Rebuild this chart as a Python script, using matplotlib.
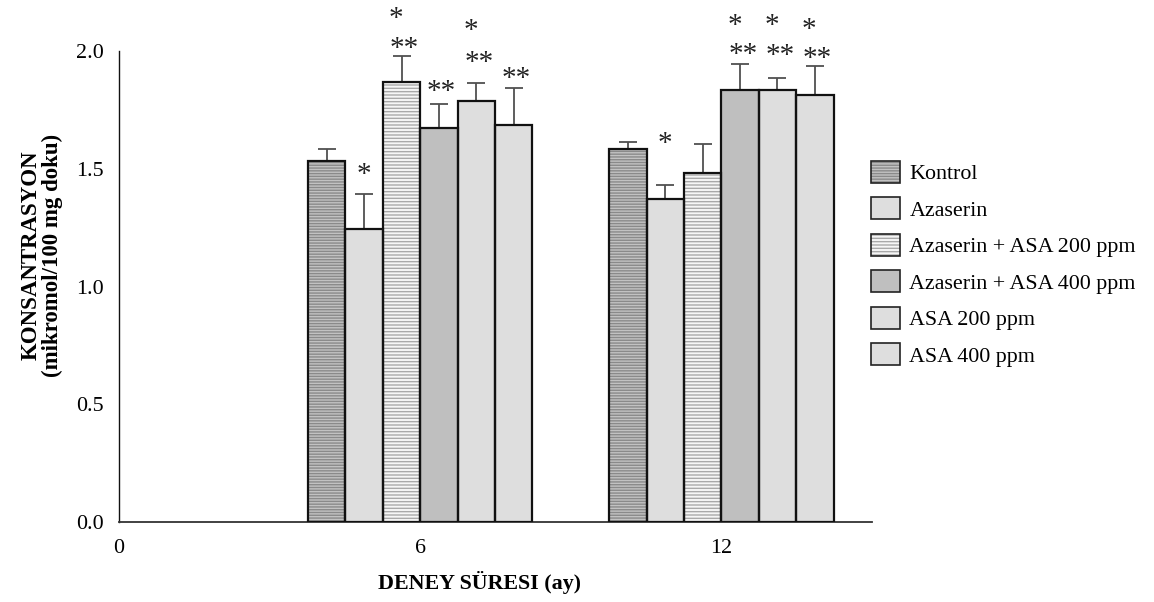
import matplotlib
matplotlib.use("Agg")
import matplotlib.pyplot as plt
from matplotlib.patches import Patch
import numpy as np

plt.rcParams['font.family'] = ['Liberation Serif', 'DejaVu Serif']
plt.rcParams['hatch.linewidth'] = 1.0

# ---- data ----
times = [6, 12]
groups = ["Kontrol", "Azaserin", "Azaserin + ASA 200 ppm",
          "Azaserin + ASA 400 ppm", "ASA 200 ppm", "ASA 400 ppm"]
means_6 = [1.534, 1.243, 1.867, 1.674, 1.786, 1.684]
means_12 = [1.583, 1.373, 1.483, 1.836, 1.836, 1.815]
errs_6 = [0.05, 0.15, 0.11, 0.10, 0.08, 0.16]
errs_12 = [0.03, 0.06, 0.12, 0.11, 0.05, 0.12]
# significance marks: (lower line, upper line)
sig_6 = [("", ""), ("*", ""), ("**", "*"), ("**", ""), ("**", "*"), ("**", "")]
sig_12 = [("", ""), ("*", ""), ("", ""), ("**", "*"), ("**", "*"), ("**", "*")]
yticks = [0.0, 0.5, 1.0, 1.5, 2.0]
xticks = [0, 6, 12]

# ---- styles ----
faces = ['#c2c2c2', '#dedede', '#f6f6f6', '#bfbfbf', '#dedede', '#dedede']
hatch_cols = ['#8a8a8a', None, '#a9a9a9', None, None, None]
hatches = ['------', None, '-----', None, None, None]
# offsets (points) of the mark lines above the error cap
low_off_6 = [0, 14, 5, 9, 14, 6]
up_off_6 = [0, 0, 27, 0, 37, 0]
low_off_12 = [0, 29, 0, 6, 16, 5]
up_off_12 = [0, 0, 0, 27, 37, 26]

W, H = 1154, 602
FS = 15.8
SFS = 21
fig = plt.figure(figsize=(W / 100, H / 100), dpi=100)
ax = fig.add_axes([119 / W, 1 - 522 / H, (872 - 119) / W, (522 - 51) / H])

bw = 0.745
n = len(groups)
offs = (np.arange(n) - (n - 1) / 2) * bw

all_means = [means_6, means_12]
all_errs = [errs_6, errs_12]
all_sig = [sig_6, sig_12]
all_low = [low_off_6, low_off_12]
all_up = [up_off_6, up_off_12]

for ti, t in enumerate(times):
    for gi in range(n):
        x = t + offs[gi]
        m = all_means[ti][gi]
        e = all_errs[ti][gi]
        if hatches[gi]:
            ax.bar(x, m, width=bw, color=faces[gi], edgecolor=hatch_cols[gi],
                   hatch=hatches[gi], linewidth=0, zorder=2)
        else:
            ax.bar(x, m, width=bw, color=faces[gi], linewidth=0, zorder=2)
        ax.bar(x, m, width=bw, facecolor='none', edgecolor='#111111',
               linewidth=1.6, zorder=3)
        ax.errorbar(x, m, yerr=[[0], [e]], fmt='none', ecolor='#505050',
                    elinewidth=1.3, capsize=6.5, capthick=1.3, zorder=1)
        low, up = all_sig[ti][gi]
        if low:
            ax.annotate(low, (x, m + e), xytext=(2 if low == "**" else 0,
                        all_low[ti][gi]), textcoords='offset points',
                        ha='center', va='center', fontsize=SFS,
                        color='#222222', annotation_clip=False)
        if up:
            ax.annotate(up, (x, m + e), xytext=(-4, all_up[ti][gi]),
                        textcoords='offset points', ha='center',
                        va='center', fontsize=SFS, color='#222222',
                        annotation_clip=False)

ax.set_xlim(0, 15)
ax.set_ylim(0, 2.0)
ax.set_xticks(xticks)
ax.set_xticklabels([str(v) for v in xticks])
ax.set_yticks(yticks)
ax.set_yticklabels([f"{v:.1f}" for v in yticks])
ax.tick_params(axis='both', length=0, labelsize=FS)
ax.tick_params(axis='y', pad=11)
ax.tick_params(axis='x', pad=12)
for s in ['top', 'right']:
    ax.spines[s].set_visible(False)
ax.spines['left'].set_color('#111111')
ax.spines['bottom'].set_color('#333333')
ax.spines['left'].set_linewidth(1.0)
ax.spines['bottom'].set_linewidth(1.3)

fig.text(42 / W, 1 - 255 / H, "KONSANTRASYON\n(mikromol/100 mg doku)",
         rotation=90, ha='center', va='center', multialignment='center',
         fontsize=16.5, fontweight='bold', linespacing=1.05)
fig.text(480 / W, 1 - 582 / H, "DENEY SÜRESI (ay)", ha='center',
         va='center', fontsize=FS, fontweight='bold')

handles = []
for gi in range(n):
    if hatches[gi]:
        h1 = Patch(facecolor=faces[gi], edgecolor=hatch_cols[gi],
                   hatch=hatches[gi], linewidth=0)
    else:
        h1 = Patch(facecolor=faces[gi], linewidth=0)
    h2 = Patch(facecolor='none', edgecolor='#222222', linewidth=1.2)
    handles.append((h1, h2))

fig.legend(handles, groups, loc='upper left',
           bbox_to_anchor=(871 / W, 1 - 161 / H), frameon=False,
           fontsize=FS, handlelength=1.3, handleheight=1.15,
           handletextpad=0.45, labelspacing=0.6, borderpad=0,
           borderaxespad=0)

fig.savefig("out.png", dpi=100)
